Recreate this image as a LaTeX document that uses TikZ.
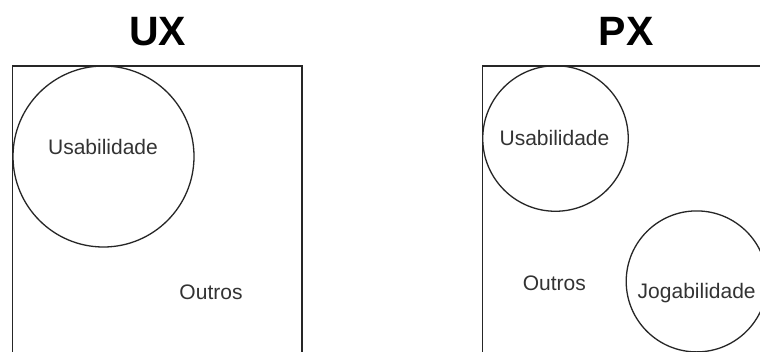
\documentclass[tikz,border=0pt]{standalone}
\usepackage{fontspec}
\setmainfont{Liberation Sans}
\begin{document}
\begin{tikzpicture}[x=1pt,y=-1pt,
  frame/.style={draw=black!85, line width=1.3pt},
  ring/.style={circle, draw=black!85, line width=1.3pt, inner sep=0pt},
  lbl/.style={anchor=base, inner sep=0pt, text=black!80, font=\fontsize{21}{25}\selectfont},
  ttl/.style={anchor=base, inner sep=0pt, text=black, font=\fontsize{41}{48}\selectfont\bfseries}]
\useasboundingbox (0,0) rectangle (760,351);
\clip (0,0) rectangle (760,351);
\fill[white] (0,0) rectangle (760,351);
% titles
\node[ttl] (ux) at (157.5,45) {UX};
\node[ttl] (px) at (626,45) {PX};
% frames
\coordinate (l1) at (12.7,360);
\coordinate (l2) at (12.7,66);
\coordinate (l3) at (302,66);
\coordinate (l4) at (302,360);
\draw[frame] (l1) -- (l2) -- (l3) -- (l4);
\coordinate (r1) at (482.7,360);
\coordinate (r2) at (482.7,66);
\coordinate (r3) at (775,66);
\draw[frame] (r1) -- (r2) -- (r3);
% circles
\node[ring, minimum size=181pt] (cu1) at (103.5,156.5) {};
\node[ring, minimum size=145.5pt] (cu2) at (555.5,138.5) {};
\node[ring, minimum size=141pt] (cj) at (696.7,281.4) {};
% labels
\node[lbl] (tu1) at (103,154) {Usabilidade};
\node[lbl] (to1) at (211,299) {Outros};
\node[lbl] (tu2) at (554.5,145) {Usabilidade};
\node[lbl] (to2) at (554.3,290) {Outros};
\node[lbl] (tj) at (696.7,298.3) {Jogabilidade};
\end{tikzpicture}
\end{document}
